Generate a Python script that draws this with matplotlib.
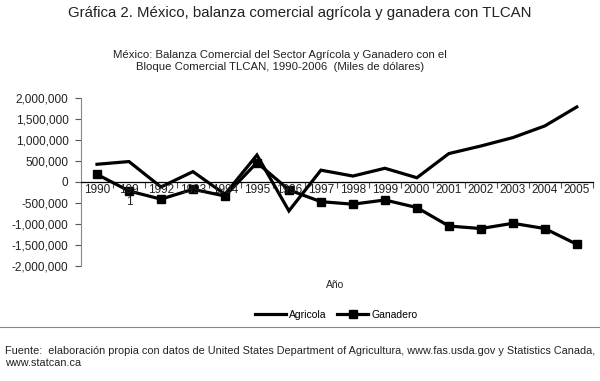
import matplotlib
matplotlib.use("Agg")
import matplotlib.pyplot as plt
from matplotlib.lines import Line2D

plt.rcParams['font.family'] = ['Liberation Sans', 'DejaVu Sans']

years = ["1990", "199\n1", "1992", "1993", "1994", "1995", "1996", "1997", "1998",
         "1999", "2000", "2001", "2002", "2003", "2004", "2005"]
agricola = [420000, 485000, -120000, 245000, -295000, 640000, -690000, 280000, 140000,
            325000, 100000, 675000, 855000, 1055000, 1333000, 1785000]
ganadero = [180000, -215000, -410000, -175000, -335000, 460000, -190000, -470000, -530000,
            -430000, -610000, -1050000, -1110000, -985000, -1110000, -1485000]
yticks = [2000000, 1500000, 1000000, 500000, 0, -500000, -1000000, -1500000, -2000000]

fig = plt.figure(figsize=(6, 3.81), dpi=100)
ax = fig.add_axes([0.135, 0.302, 0.853, 0.441])

x = list(range(len(years)))
ax.plot(x, agricola, color="black", lw=2.3, solid_joinstyle="miter")
ax.plot(x, ganadero, color="black", lw=2.3, marker="s", ms=5.5, solid_joinstyle="miter")

ax.set_xlim(-0.5, len(years) - 0.5)
ax.set_ylim(-2000000, 2000000)
ax.set_yticks(yticks)
ax.set_yticklabels([f"{v:,.0f}" for v in yticks], fontsize=8.5, color="#222222")
ax.tick_params(axis="y", length=4, width=0.8, color="#555555", pad=5)

for s in ["top", "right"]:
    ax.spines[s].set_visible(False)
ax.spines["left"].set_color("#888888")
ax.spines["left"].set_linewidth(0.8)
ax.spines["bottom"].set_position(("data", 0))
ax.spines["bottom"].set_color("black")
ax.spines["bottom"].set_linewidth(0.9)

ax.set_xticks([i - 0.5 for i in x] + [len(years) - 0.5])
ax.set_xticklabels([])
ax.tick_params(axis="x", length=4, width=0.8, color="#555555", direction="out")
for i, lab in enumerate(years):
    ax.text(i, -60000, lab, ha="center", va="top", fontsize=8.5, color="#222222",
            linespacing=1.0)

fig.text(0.5, 0.965, "Gráfica 2. México, balanza comercial agrícola y ganadera con TLCAN",
         ha="center", va="center", fontsize=10.8, color="#222222")
fig.text(0.467, 0.84, "México: Balanza Comercial del Sector Agrícola y Ganadero con el\n"
         "Bloque Comercial TLCAN, 1990-2006  (Miles de dólares)",
         ha="center", va="center", fontsize=8.2, linespacing=1.25, color="#222222")
fig.text(0.558, 0.252, "Año", ha="center", va="center", fontsize=7.5, color="#222222")

handles = [Line2D([], [], color="black", lw=2.3),
           Line2D([], [], color="black", lw=2.3, marker="s", ms=5.5)]
fig.legend(handles, ["Agricola", "Ganadero"], loc="center", bbox_to_anchor=(0.56, 0.173),
           ncol=2, frameon=False, fontsize=7.5, handlelength=3.0, handletextpad=0.3,
           columnspacing=1.0)

fig.add_artist(Line2D([0.0, 1.0], [1 - 327 / 381, 1 - 327 / 381], color="#888888", lw=0.8,
                      transform=fig.transFigure))

fig.text(0.008, 0.063, "Fuente:  elaboración propia con datos de United States Department of "
         "Agricultura, www.fas.usda.gov y Statistics Canada,\nwww.statcan.ca",
         ha="left", va="center", fontsize=7.85, linespacing=1.3, color="#222222")

fig.savefig("out.png", dpi=100)
